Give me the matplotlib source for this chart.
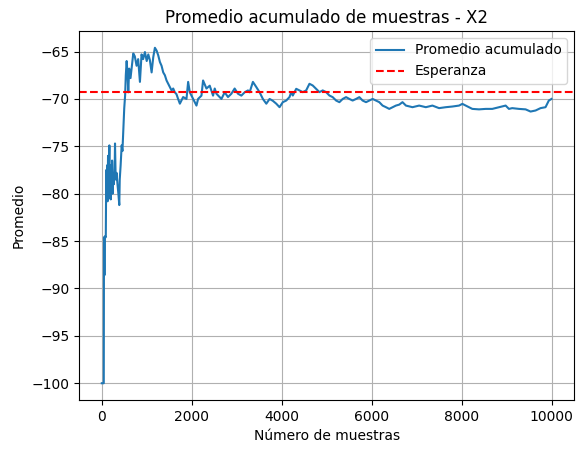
import matplotlib
matplotlib.use("Agg")
import matplotlib.pyplot as plt

# valores (numero de muestras, promedio acumulado)
muestras = [1, 45, 50, 60, 70, 90, 100, 110, 120, 130, 140, 150, 160, 170, 180,
            190, 200, 210, 220, 230, 240, 250, 270, 290, 295, 310, 330, 350, 370,
            390, 400, 420, 443, 460, 480, 500, 520, 535, 554, 575, 590, 610, 640,
            670, 701, 735, 775, 810, 849, 885, 920, 960, 1000, 1035, 1070, 1109,
            1145, 1182, 1220, 1256, 1293, 1330, 1367, 1404, 1441, 1478, 1514,
            1552, 1589, 1625, 1662, 1698, 1737, 1810, 1884, 1921, 1958, 2031,
            2106, 2142, 2217, 2253, 2328, 2401, 2475, 2512, 2550, 2661, 2734,
            2807, 2882, 2955, 3029, 3104, 3177, 3251, 3288, 3361, 3437, 3510,
            3583, 3659, 3732, 3805, 3880, 3953, 4026, 4102, 4175, 4213, 4248,
            4324, 4397, 4470, 4545, 4618, 4691, 4767, 4840, 4913, 4989, 5062,
            5135, 5211, 5284, 5357, 5432, 5506, 5578, 5654, 5727, 5800, 5876,
            5949, 6022, 6098, 6171, 6244, 6319, 6392, 6466, 6541, 6614, 6687,
            6763, 6909, 7057, 7206, 7352, 7500, 7650, 7796, 7944, 8018, 8093,
            8239, 8388, 8537, 8683, 8831, 8980, 9053, 9126, 9275, 9424, 9534,
            9645, 9756, 9867, 9940, 10000]
promedio = [-100.0, -100.0, -84.6, -88.6, -84.5, -84.6, -77.5, -80.5, -77.0,
            -80.8, -76.0, -80.5, -77.3, -74.9, -80.3, -77.8, -80.6, -77.0, -79.5,
            -76.5, -80.0, -78.0, -79.0, -76.5, -74.7, -78.5, -77.8, -79.0, -80.0,
            -81.2, -78.5, -77.0, -74.9, -75.5, -73.2, -71.0, -69.6, -67.5, -66.0,
            -67.5, -69.3, -66.8, -67.8, -66.5, -65.2, -65.5, -66.5, -65.8, -68.2,
            -65.3, -65.8, -65.05, -66.0, -65.3, -65.9, -67.2, -65.6, -64.6, -64.9,
            -65.4, -66.1, -66.5, -67.2, -67.5, -68.05, -68.4, -68.75, -69.1, -68.9,
            -69.3, -69.5, -70.0, -70.5, -69.8, -70.0, -68.2, -69.3, -70.0, -70.7,
            -70.0, -69.65, -68.05, -68.9, -68.6, -69.65, -68.9, -69.45, -70.0,
            -69.3, -69.8, -69.45, -68.9, -69.45, -69.65, -69.3, -69.1, -69.3,
            -68.2, -68.75, -69.3, -70.0, -70.5, -70.0, -70.2, -70.5, -70.87,
            -70.34, -70.17, -69.8, -69.28, -69.64, -68.93, -69.1, -69.28, -69.1,
            -68.4, -68.58, -68.93, -69.28, -69.1, -69.28, -69.64, -69.81, -70.17,
            -70.34, -70.0, -69.81, -70.0, -70.17, -70.0, -69.81, -70.17, -70.34,
            -70.17, -70.0, -70.17, -70.34, -70.7, -70.87, -71.05, -70.87, -70.7,
            -70.6, -70.34, -70.7, -70.87, -70.7, -70.87, -70.7, -70.97, -70.87,
            -70.8, -70.7, -70.52, -70.7, -71.05, -71.1, -71.05, -71.05, -70.87,
            -70.7, -71.05, -70.97, -71.05, -71.1, -71.33, -71.22, -70.97, -70.87,
            -70.17, -70.0]
esperanza = -69.3

fig = plt.figure(figsize=(5.84, 4.54), dpi=100)
fig.subplots_adjust(left=79.3/584, right=574/584, top=1-31/454, bottom=1-400/454)
ax = fig.add_subplot(111)

ax.plot(muestras, promedio, label="Promedio acumulado")
ax.axhline(esperanza, color="r", linestyle="--", label="Esperanza")

ax.set_title("Promedio acumulado de muestras - X2")
ax.set_xlabel("Número de muestras")
ax.set_ylabel("Promedio")
ax.legend(loc="upper right")
ax.grid(True)

fig.savefig("out.png", dpi=100)
